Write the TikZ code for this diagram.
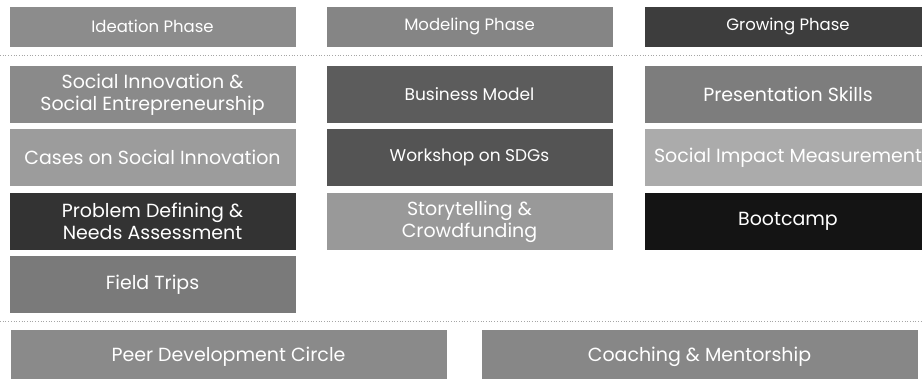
\documentclass[tikz,border=0pt]{standalone}
\usepackage{fontspec}
\setmainfont{Poppins}
\usepackage{xcolor}
\usepackage{tikz}
\usetikzlibrary{calc}

\begin{document}
\begin{tikzpicture}[
    x=1pt, y=-1pt,
    font=\fontsize{19}{22}\selectfont,
    % Phase header styling
    phase/.style={rectangle, inner sep=0pt, minimum width=286pt, minimum height=40pt, align=center, text=white, font=\fontsize{16.5}{20}\selectfont},
    % Module box styling
    module/.style={rectangle, inner sep=0pt, minimum width=286pt, minimum height=57pt, align=center, text=white},
    % Continuous track styling
    track/.style={rectangle, inner sep=0pt, minimum width=436pt, minimum height=54pt, align=center, text=white},
    % Dotted divider styling
    separator/.style={draw=black!35, dotted, line width=0.7pt}
]
\clip (0,0) rectangle (922,378);

% ---------------------------------------------------
% 1. PHASE HEADERS
% ---------------------------------------------------
\node[phase, fill=black!45] (ideation) at (152.5, 26.5) {Ideation Phase};
\node[phase, fill=black!48] (modeling) at (469.5, 26.5) {Modeling Phase};
\node[phase, fill=black!76] (growing) at (788, 26.5) {Growing Phase};

% ---------------------------------------------------
% 2. MODULES (one column per phase)
% ---------------------------------------------------

% Ideation column
\node[module, fill=black!46] (socinno) at (152.5, 94.5) {Social Innovation \&\\Social Entrepreneurship};
\node[module, fill=black!39] (cases) at (152.5, 157.5) {Cases on Social Innovation};
\node[module, fill=black!80] (problem) at (152.5, 221.5) {Problem Defining \&\\Needs Assessment};
\node[module, fill=black!52] (fieldtrips) at (152.5, 284.5) {Field Trips};

% Modeling column
\node[module, fill=black!64, font=\fontsize{17}{20}\selectfont] (business) at (469.5, 94.5) {Business Model};
\node[module, fill=black!67, font=\fontsize{17}{20}\selectfont] (sdgs) at (469.5, 157.5) {Workshop on SDGs};
\node[module, fill=black!40] (story) at (469.5, 221.5) {Storytelling \&\\Crowdfunding};

% Growing column
\node[module, fill=black!51] (presentation) at (788, 94.5) {Presentation Skills};
\node[module, fill=black!33] (impact) at (788, 157.5) {Social Impact Measurement};
\node[module, fill=black!92] (bootcamp) at (788, 221.5) {Bootcamp};

% ---------------------------------------------------
% 3. CONTINUOUS TRACKS (bottom row)
% ---------------------------------------------------
\node[track, fill=black!46] (peer) at (228.5, 357) {Peer Development Circle};
\node[track, fill=black!47] (coaching) at (699.5, 357) {Coaching \& Mentorship};

% ---------------------------------------------------
% 4. DIVIDERS
% ---------------------------------------------------
\coordinate (top_l) at (0, 55);
\coordinate (top_r) at (922, 55);
\coordinate (bot_l) at (0, 321);
\coordinate (bot_r) at (922, 321);
\draw[separator] (top_l) -- (top_r);
\draw[separator] (bot_l) -- (bot_r);

\end{tikzpicture}
\end{document}
